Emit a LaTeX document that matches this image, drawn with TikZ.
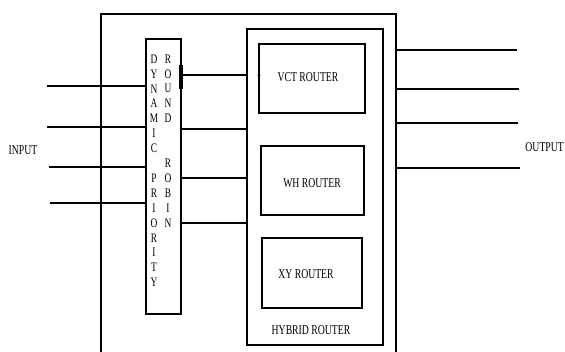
\documentclass[tikz,border=0pt]{standalone}
\usepackage{fontspec}
\setmainfont{Liberation Serif}
\newfontfamily\cond[FakeStretch=0.72]{Liberation Serif}
\begin{document}
\begin{tikzpicture}[x=1pt,y=-1pt,
  box/.style={draw,line width=2.4pt,inner sep=0pt,outer sep=0pt,anchor=north west},
  inbox/.style={box,line width=2.8pt},
  wire/.style={line width=2.6pt},
  lbl/.style={font=\fontsize{13.5}{15}\cond,inner sep=0pt},
  let/.style={font=\fontsize{13}{14}\cond,inner sep=0pt}]
\useasboundingbox (0,0) rectangle (565,352);
% outer frame
\draw[line width=2.4pt] (101,360) -- (101,14) -- (396,14) -- (396,360);
\coordinate (outR) at (396,0);
% boxes
\node[box,minimum width=35,minimum height=275] (dp) at (146,39) {};
\node[box,line width=2.6pt,minimum width=136,minimum height=316] (hyb) at (247,29) {};
\node[inbox,minimum width=106,minimum height=69] (vct) at (259,44) {};
\node[inbox,minimum width=103,minimum height=69] (wh) at (261,146) {};
\node[inbox,minimum width=100,minimum height=70] (xy) at (262,238) {};
% labels
\node[lbl] (tvct) at (308,77) {VCT ROUTER};
\node[lbl] (twh) at (312,183) {WH ROUTER};
\node[lbl] (txy) at (306,274) {XY ROUTER};
\node[lbl] (thyb) at (311,330) {HYBRID ROUTER};
\node[lbl] (tin) at (23,150) {INPUT};
\node[lbl,anchor=east] (tout) at (564,147) {OUTPUT};
% DP letters
\foreach \c [count=\i] in {D,Y,N,A,M,I,C,{},P,R,I,O,R,I,T,Y}
  \node[let] (a\i) at (154,{59+(\i-1)*14.9}) {\c};
\foreach \c [count=\i] in {R,O,U,N,D,{},{},R,O,B,I,N}
  \node[let] (b\i) at (168,{59+(\i-1)*14.9}) {\c};
% input wires
\coordinate (in1) at (47,86);
\coordinate (in2) at (47,127);
\coordinate (in3) at (49,167);
\coordinate (in4) at (50,203);
\foreach \k in {1,...,4}
  \draw[wire] (in\k) -- (in\k -| dp.west);
% middle wires
\coordinate (m1) at (0,75);
\coordinate (m2) at (0,129);
\coordinate (m3) at (0,178);
\coordinate (m4) at (0,223);
\foreach \k in {1,...,4}
  \draw[wire] (dp.east |- m\k) -- (hyb.west |- m\k);
\coordinate (t1) at (0,65);
\coordinate (t2) at (0,89);
\draw[line width=3.2pt] (dp.east |- t1) -- (dp.east |- t2);
\fill (vct.west |- m1) circle (1.6);
% output wires
\coordinate (o1) at (517,50);
\coordinate (o2) at (519,89);
\coordinate (o3) at (518,123);
\coordinate (o4) at (520,168);
\foreach \k in {1,...,4}
  \draw[wire] (o\k -| outR) -- (o\k);
\end{tikzpicture}
\end{document}
